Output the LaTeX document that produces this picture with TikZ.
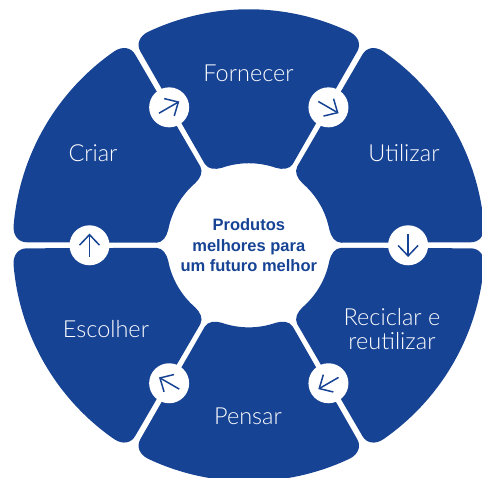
\documentclass[tikz,border=0pt]{standalone}
\usepackage{fontspec}
\setmainfont{Liberation Sans}
\newfontfamily\lightface{Lato Light}
\usetikzlibrary{arrows.meta}
\definecolor{wheelblue}{HTML}{174395}
\definecolor{labelwhite}{HTML}{FFFFFF}
\tikzset{
  x=1pt,y=1pt,
  sector/.style={fill=wheelblue,draw=none},
  hub/.style={circle,fill=white,draw=none,minimum size=40pt,inner sep=0pt},
  flow/.style={draw=wheelblue,line width=1.5pt,-{Straight Barb[length=10.5pt,width=20pt,line width=1.5pt]}},
  label/.style={text=labelwhite,font=\lightface\fontsize{23.5}{24.5}\selectfont,align=center,anchor=base,inner sep=0pt},
  core/.style={text=wheelblue,font=\bfseries\fontsize{16.5}{20.8}\selectfont,align=center,inner sep=0pt}
}
\begin{document}
\begin{tikzpicture}
\useasboundingbox (-248.8,-232.7) rectangle (233.2,245.3);
\clip (-248.8,-232.7) rectangle (233.2,245.3);
\foreach \a in {0,60,...,300}{
  \begin{scope}[rotate=\a]
    \path[sector] (-108.4,193.8)
      .. controls (-112.6,201.1) and (-109.5,209.0) .. (-100.8,213.4)
      arc[start angle=115.3,end angle=64.7,radius=236]
      .. controls (109.5,209.0) and (112.6,201.1) .. (108.4,193.8)
      -- (44,81.3)
      .. controls (40.6,76) and (33.8,75.5) .. (27,77.5)
      arc[start angle=70.8,end angle=109.2,radius=82]
      .. controls (-33.8,75.5) and (-40.6,76) .. (-44,81.3)
      -- cycle;
  \end{scope}
}
\node[hub] (h1) at (120:159.3) {};
\node[hub] (h2) at (60:159.3) {};
\node[hub] (h3) at (0:159.3) {};
\node[hub] (h4) at (-60:159.3) {};
\node[hub] (h5) at (-120:159.3) {};
\node[hub] (h6) at (180:159.3) {};
\foreach \n/\d in {h1/30,h2/-30,h3/-90,h4/-150,h5/150,h6/90}{
  \draw[flow] ([shift={(\d+180:11.7)}]\n.center) -- ([shift={(\d:11.7)}]\n.center);
}
\node[label] (fornecer) at (-0.3,163.3) {Fornecer};
\node[label] (utilizar) at (155.2,83.3) {Utilizar};
\node[label] (reciclar) at (143.2,-104.7) {Reciclar e\\reutilizar};
\node[label] (pensar) at (-0.8,-179.7) {Pensar};
\node[label] (escolher) at (-142.8,-92.7) {Escolher};
\node[label] (criar) at (-155.8,83.3) {Criar};
\node[core] (centre) at (0,0) {Produtos\\melhores para\\um futuro melhor};
\end{tikzpicture}
\end{document}
